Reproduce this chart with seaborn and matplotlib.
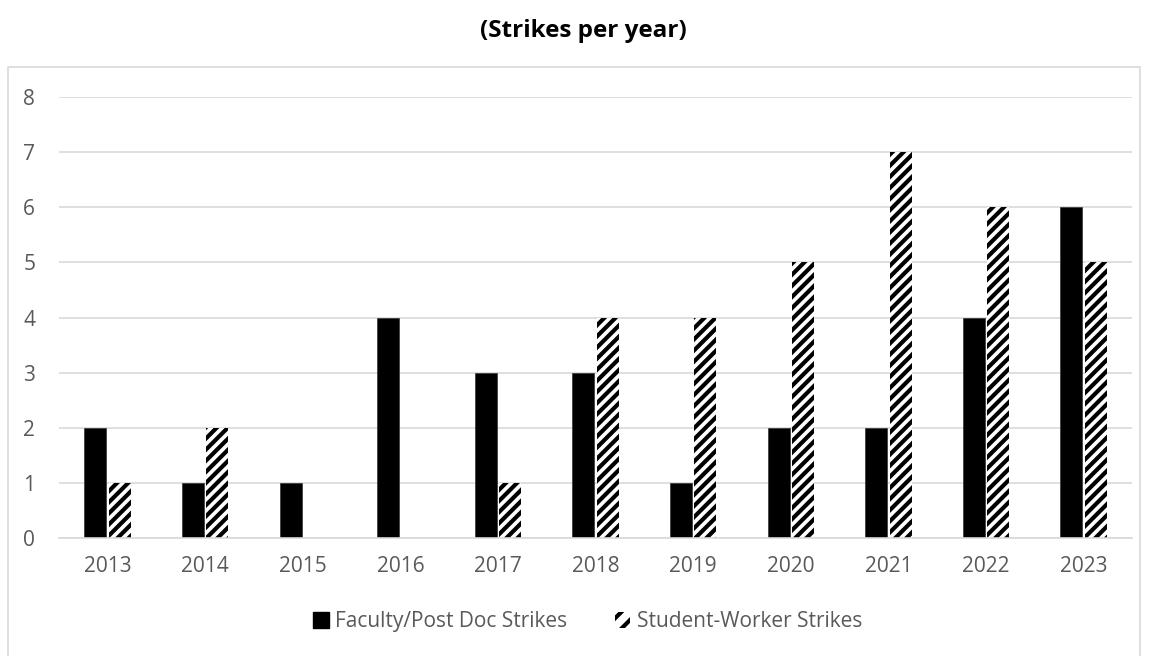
import numpy as np
import pandas as pd
import matplotlib.pyplot as plt
import matplotlib.patches as mpatches
import seaborn as sns

# Datos
years = ['2013', '2014', '2015', '2016', '2017', '2018', '2019', '2020', '2021', '2022', '2023']
faculty = [2, 1, 1, 4, 3, 3, 1, 2, 2, 4, 6]
students = [1, 2, 0, 0, 1, 4, 4, 5, 7, 6, 5]
series = ['Faculty/Post Doc Strikes', 'Student-Worker Strikes']

df = pd.DataFrame({
    'Year': years * 2,
    'Strikes': faculty + students,
    'Type': [series[0]] * len(years) + [series[1]] * len(years),
})

sns.set_style("white")
plt.rcParams['font.family'] = ['Open Sans', 'DejaVu Sans']
plt.rcParams['hatch.linewidth'] = 3.0
plt.rcParams['hatch.color'] = 'black'

grey_txt = '#595959'
grid_col = '#d9d9d9'

fig = plt.figure(figsize=(11.52, 6.56), dpi=100)
ax = fig.add_axes([0.051, 0.180, 0.932, 0.672])

sns.barplot(data=df, x='Year', y='Strikes', hue='Type', palette=['black', 'white'],
            width=0.5, gap=0.1, legend=False, ax=ax)

# Barras de estudiantes con rayado diagonal
for p in ax.containers[0]:
    p.set_edgecolor('#333333')
    p.set_linewidth(0.5)
for p in ax.containers[1]:
    p.set_hatch('///')
    p.set_edgecolor('black')
    p.set_linewidth(0)

ax.set_ylim(0, 8)
ax.set_yticks(range(0, 9))
ax.set_xlim(-0.5, len(years) - 0.5)
ax.yaxis.grid(True, color=grid_col, linewidth=1.2)
ax.set_axisbelow(True)
for s in ['top', 'right', 'left']:
    ax.spines[s].set_visible(False)
ax.spines['bottom'].set_color(grid_col)
ax.spines['bottom'].set_linewidth(1.2)
ax.tick_params(axis='y', length=0, pad=17, labelsize=15, labelcolor=grey_txt)
ax.tick_params(axis='x', length=0, pad=13, labelsize=15, labelcolor=grey_txt)
ax.set_xlabel('')
ax.set_ylabel('')

fig.text(0.506, 0.953, '(Strikes per year)', ha='center', va='center',
         fontsize=17.5, fontweight='bold', color='black')

handles = [mpatches.Patch(facecolor='black', edgecolor='black', label=series[0]),
           mpatches.Patch(facecolor='white', edgecolor='black', hatch='//', linewidth=0, label=series[1])]
fig.legend(handles=handles, loc='center', bbox_to_anchor=(0.51, 0.052), ncol=2, frameon=False,
           fontsize=15, labelcolor=grey_txt, handlelength=0.75, handleheight=0.75,
           handletextpad=0.3, columnspacing=2.3)

# Marco exterior del gráfico
fig.patches.append(mpatches.Rectangle((8 / 1152, -0.01), (1140 - 8) / 1152, 1 - 67 / 656 + 0.01,
                                      transform=fig.transFigure, fill=False,
                                      edgecolor=grid_col, linewidth=1.2))

fig.savefig('out.png', dpi=100)
